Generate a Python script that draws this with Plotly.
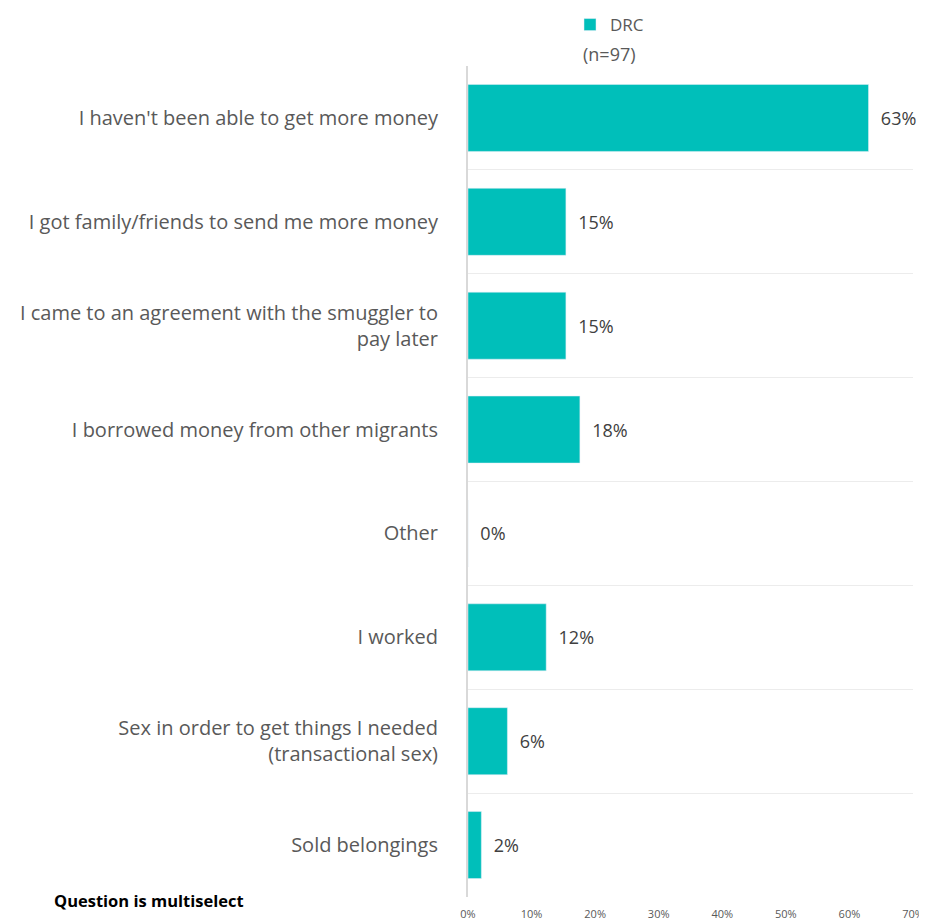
import plotly.graph_objects as go

categories = [
    "I haven't been able to get more money",
    "I got family/friends to send me more money",
    "I came to an agreement with the smuggler to<br>pay later",
    "I borrowed money from other migrants",
    "Other",
    "I worked",
    "Sex in order to get things I needed<br>(transactional sex)",
    "Sold belongings",
]
drc_values = [63.0, 15.4, 15.4, 17.6, 0.0, 12.3, 6.2, 2.1]
drc_labels = ["63%", "15%", "15%", "18%", "0%", "12%", "6%", "2%"]
x_ticks = [0, 10, 20, 30, 40, 50, 60, 70]
x_tick_labels = ["0%", "10%", "20%", "30%", "40%", "50%", "60%", "70%"]

FONT = "Open Sans"
TEAL = "#00BFBA"

# page is offset by the 8px body margin
W, H = 919, 916
L, R, T, B = 460, 14, 58, 27
PW, PH = W - L - R, H - T - B

fig = go.Figure()
fig.add_trace(go.Bar(
    y=categories,
    x=drc_values,
    orientation="h",
    name="DRC",
    marker=dict(color=TEAL),
    text=["\u00a0\u00a0" + t for t in drc_labels],
    textposition="outside",
    textfont=dict(family=FONT, size=18, color="#404040"),
    cliponaxis=False,
))

fig.update_layout(
    width=W,
    height=H,
    margin=dict(l=L, r=R, t=T, b=B, autoexpand=False),
    paper_bgcolor="white",
    plot_bgcolor="white",
    bargap=0.355,
    showlegend=True,
    legend=dict(
        orientation="h",
        xref="paper", yref="paper",
        x=(562 - L) / PW, xanchor="left",
        y=1 + (T + 1) / PH, yanchor="top",
        font=dict(family=FONT, size=17, color="#595959"),
        bgcolor="rgba(0,0,0,0)",
    ),
    font=dict(family=FONT, color="#595959"),
)

fig.update_xaxes(
    range=[0, 70],
    tickvals=x_ticks,
    ticktext=x_tick_labels,
    showgrid=False,
    zeroline=False,
    showline=False,
    ticks="",
    ticklabelstandoff=9,
    tickfont=dict(family=FONT, size=11, color="#595959"),
)
fig.update_yaxes(
    type="category",
    autorange="reversed",
    tickson="boundaries",
    showgrid=True,
    gridcolor="#ececec",
    gridwidth=1,
    showline=True,
    linecolor="#d9d9d9",
    linewidth=2,
    ticks="",
    ticklabelstandoff=24,
    tickfont=dict(family=FONT, size=20, color="#595959"),
)

fig.add_annotation(
    text="(n=97)", xref="paper", yref="paper",
    x=(573 - L) / PW, y=1 + (T - 46) / PH,
    xanchor="left", yanchor="middle",
    showarrow=False,
    font=dict(family=FONT, size=18, color="#595959"),
)
fig.add_annotation(
    text="<b>Question is multiselect</b>", xref="paper", yref="paper",
    x=(44 - L) / PW, y=-(892 - (H - B)) / PH,
    xanchor="left", yanchor="middle",
    showarrow=False,
    font=dict(family=FONT, size=16.5, color="#000000"),
)

fig.write_html("out.html")
